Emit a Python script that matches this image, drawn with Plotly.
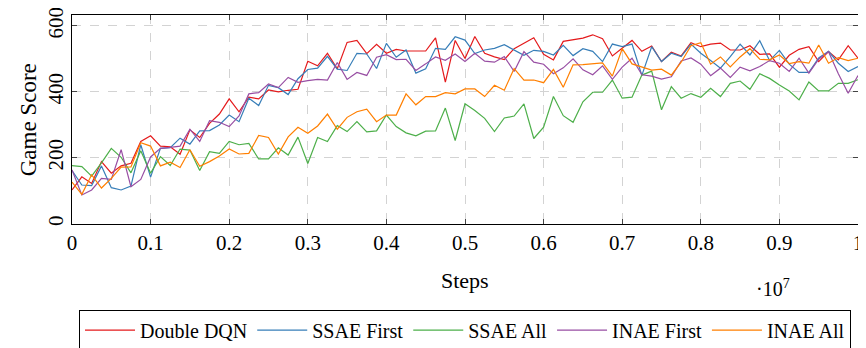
import plotly.graph_objects as go

steps = [i * 0.0125 for i in range(81)]  # evaluation grid, units of 1e7 steps

double_dqn = [103,143,123,189,154,176,184,250,267,236,
              234,211,285,262,305,333,379,340,384,379,
              406,400,405,408,493,479,517,470,550,556,
              516,544,517,529,524,524,524,564,430,556,
              501,568,517,506,498,531,547,564,514,497,
              553,558,563,573,561,509,532,556,523,539,
              492,520,509,549,537,545,548,527,527,540,
              514,515,475,511,529,537,492,522,497,540,
              502]
ssae_first = [162,118,116,176,110,103,115,240,142,229,
              231,260,242,282,283,300,330,310,381,359,
              420,413,392,440,468,472,508,469,465,517,
              515,471,547,505,527,457,470,532,529,567,
              557,516,527,532,543,527,511,526,523,512,
              541,510,531,523,492,545,537,545,450,537,
              492,517,507,545,517,495,472,507,545,512,
              555,495,526,484,459,459,503,523,487,462,
              477]
ssae_all = [177,174,145,185,229,202,155,222,154,204,
            177,227,224,162,219,214,250,240,244,197,
            197,231,209,263,183,262,250,298,280,310,
            279,282,330,295,276,267,281,282,351,253,
            364,344,320,280,321,327,364,259,293,386,
            328,308,370,399,399,436,381,384,451,463,
            346,416,381,395,384,411,386,426,433,408,
            455,441,421,403,376,430,403,403,426,426,
            437]
inae_first = [164,88,103,138,135,225,113,135,203,229,
              232,236,287,250,313,308,295,327,394,398,
              424,413,444,429,434,438,436,489,438,459,
              450,505,513,498,499,465,485,506,496,515,
              492,517,493,490,507,462,522,490,484,455,
              473,500,467,452,479,438,475,502,452,448,
              439,446,494,503,484,449,472,444,475,464,
              477,495,487,462,502,457,499,522,455,396,
              450]
inae_all = [127,90,149,109,138,172,173,246,236,176,
            187,171,225,175,189,206,227,212,214,268,
            262,212,264,293,275,297,333,287,323,340,
            348,310,330,330,394,361,386,386,398,394,
            409,409,386,420,405,471,436,436,428,468,
            414,482,483,485,488,448,531,485,475,466,
            469,451,490,540,549,484,506,476,506,531,
            499,497,512,486,492,487,542,487,504,495,
            502]

series_names = ["Double DQN", "SSAE First", "SSAE All", "INAE First", "INAE All"]
series_values = [double_dqn, ssae_first, ssae_all, inae_first, inae_all]
colors = ["#e41a1c", "#377eb8", "#4daf4a", "#984ea3", "#ff7f00"]

x_tickvals = [0, 0.1, 0.2, 0.3, 0.4, 0.5, 0.6, 0.7, 0.8, 0.9, 1.0]
x_ticktext = ["0", "0.1", "0.2", "0.3", "0.4", "0.5", "0.6", "0.7", "0.8", "0.9", "1"]
y_tickvals = [0, 200, 400, 600]

FONT = "Liberation Serif, DejaVu Serif, serif"

fig = go.Figure()
for name, vals, c in zip(series_names, series_values, colors):
    fig.add_trace(go.Scatter(x=steps, y=vals, mode="lines", name=name,
                             line=dict(color=c, width=1.2)))

axis_common = dict(showline=True, linecolor="black", linewidth=1, mirror="ticks",
                   ticks="inside", ticklen=5, tickcolor="#444", showgrid=True,
                   gridcolor="#d3d3d3", griddash="dash", gridwidth=1, zeroline=False,
                   ticklabeloverflow="allow", automargin=False,
                   tickfont=dict(family=FONT, size=21, color="black"))

# the page body adds an 8px offset, so the figure is 858x340 with adjusted margins
fig.update_layout(
    width=858, height=340,
    margin=dict(l=64, r=8, t=7, b=124, autoexpand=False),
    paper_bgcolor="white", plot_bgcolor="white",
    font=dict(family=FONT, color="black"),
    xaxis=dict(range=[0, 1], tickvals=x_tickvals, ticktext=x_ticktext, **axis_common),
    yaxis=dict(range=[0, 633], tickvals=y_tickvals, tickangle=-90, **axis_common),
    legend=dict(orientation="h", x=0.5, xanchor="center", y=-0.41, yanchor="top",
                bgcolor="white", bordercolor="black", borderwidth=1,
                font=dict(family=FONT, size=20), itemwidth=50, tracegroupgap=0),
    showlegend=True,
    annotations=[
        dict(text="Steps", x=0.5, y=-0.27, xref="paper", yref="paper",
             xanchor="center", yanchor="middle", showarrow=False,
             font=dict(family=FONT, size=22)),
        dict(text="Game Score", x=-0.055, y=0.5, xref="paper", yref="paper",
             xanchor="center", yanchor="middle", textangle=-90, showarrow=False,
             font=dict(family=FONT, size=23)),
        dict(text="·10<sup>7</sup>", x=0.892, y=-0.305, xref="paper", yref="paper",
             xanchor="center", yanchor="middle", showarrow=False,
             font=dict(family=FONT, size=20)),
    ],
)

fig.write_html("out.html")
